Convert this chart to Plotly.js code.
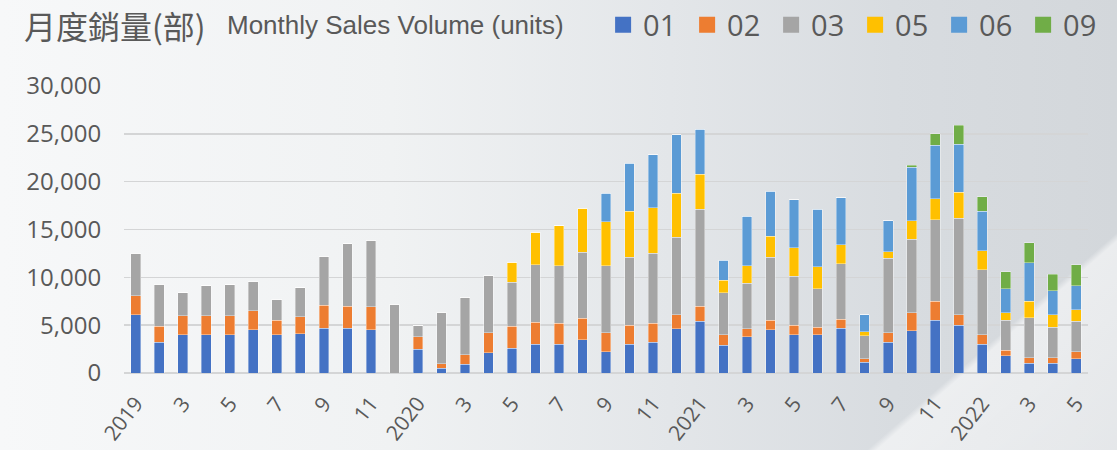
<!DOCTYPE html>
<html>
<head>
<meta charset="utf-8">
<script src="https://cdn.plot.ly/plotly-3.0.1.min.js"></script>
<style>
  html, body { margin:0; padding:0; }
  #chart {
    width:1117px; height:450px;
    background:
      linear-gradient(139deg, rgba(255,255,255,0) 84.7%, rgba(255,255,255,0.55) 85.3%, rgba(255,255,255,0.4) 100%),
      linear-gradient(to right, #f7f8f9 0%, #f0f2f3 35%, #e3e6e9 60%, #d8dce0 80%, #d3d7db 100%);
  }
</style>
</head>
<body>
<div id="chart"></div>
<script>
// Months 2019-01 .. 2022-05
const categories = [
  "2019-01","2019-02","2019-03","2019-04","2019-05","2019-06","2019-07","2019-08","2019-09","2019-10","2019-11","2019-12",
  "2020-01","2020-02","2020-03","2020-04","2020-05","2020-06","2020-07","2020-08","2020-09","2020-10","2020-11","2020-12",
  "2021-01","2021-02","2021-03","2021-04","2021-05","2021-06","2021-07","2021-08","2021-09","2021-10","2021-11","2021-12",
  "2022-01","2022-02","2022-03","2022-04","2022-05"
];
const tickLabels = ["2019","3","5","7","9","11","2020","3","5","7","9","11","2021","3","5","7","9","11","2022","3","5"];

const series01 = [6100,3200,4000,4000,4000,4500,4000,4100,4700,4700,4500,0,
                  2500,500,900,2100,2600,3000,3000,3500,2200,3000,3200,4600,
                  5400,2900,3800,4500,4000,4000,4700,1100,3200,4400,5500,5000,
                  3000,1800,1000,1000,1500];
const series02 = [2000,1700,2000,2000,2000,2000,1500,1800,2400,2300,2400,0,
                  1300,450,1000,2100,2300,2300,2200,2200,2000,2000,2000,1500,
                  1600,1100,800,1000,1000,800,900,400,1000,1900,2000,1100,
                  1000,600,600,600,700];
const series03 = [4400,4400,2400,3100,3200,3100,2200,3000,5100,6500,7000,7200,
                  1200,5400,6000,6000,4600,6000,6000,6900,7000,7100,7300,8100,
                  10100,4400,4800,6600,5100,4000,5800,2400,7800,7700,8500,10100,
                  6800,3100,4200,3200,3200];
const series05 = [0,0,0,0,0,0,0,0,0,0,0,0,
                  0,0,0,0,2100,3400,4200,4600,4600,4800,4800,4600,
                  3700,1300,1800,2200,3000,2300,2000,400,700,1900,2200,2700,
                  2000,800,1700,1300,1200];
const series06 = [0,0,0,0,0,0,0,0,0,0,0,0,
                  0,0,0,0,0,0,0,0,3000,5000,5500,6100,
                  4700,2100,5200,4700,5000,6000,4900,1800,3200,5600,5600,5000,
                  4100,2500,4000,2500,2500];
const series09 = [0,0,0,0,0,0,0,0,0,0,0,0,
                  0,0,0,0,0,0,0,0,0,0,0,0,
                  0,0,0,0,0,0,0,0,0,200,1200,2000,
                  1500,1800,2100,1700,2200];

const seriesNames = ["01","02","03","05","06","09"];
const seriesValues = [series01, series02, series03, series05, series06, series09];
const seriesColors = ["#4472C4","#ED7D31","#A5A5A5","#FFC000","#5B9BD5","#70AD47"];

const tickVals = categories.filter((c, i) => i % 2 === 0);

const traces = [];
seriesNames.forEach((n, i) => {
  traces.push({
    type: "bar", name: n, x: categories, y: seriesValues[i],
    marker: { color: seriesColors[i], line: { color: "rgba(255,255,255,0.45)", width: 0.8 } },
    showlegend: false, hoverinfo: "x+y+name"
  });
});
// legend-only entries with larger square swatches
seriesNames.forEach((n, i) => {
  traces.push({
    type: "scatter", mode: "markers", name: n, x: [null], y: [null],
    marker: { symbol: "square", size: 16, color: seriesColors[i] },
    showlegend: true, hoverinfo: "skip"
  });
});

const layout = {
  width: 1117, height: 450,
  margin: { l: 124, r: 29, t: 86, b: 77, pad: 0, autoexpand: false },
  paper_bgcolor: "rgba(0,0,0,0)",
  plot_bgcolor: "rgba(0,0,0,0)",
  barmode: "stack",
  bargap: 0.587,
  font: { family: "Open Sans, Arial, sans-serif", color: "#595959" },
  showlegend: true,
  legend: {
    orientation: "h", x: 0.497, xanchor: "left", y: 1.2125, yanchor: "middle",
    font: { size: 29, color: "#595959", family: "Open Sans, Arial, sans-serif" },
    bgcolor: "rgba(0,0,0,0)", itemsizing: "trace", traceorder: "normal",
    entrywidth: 39, entrywidthmode: "pixels"
  },
  xaxis: {
    type: "category",
    tickmode: "array", tickvals: tickVals, ticktext: tickLabels,
    tickangle: -52,
    tickfont: { size: 21, color: "#595959" },
    ticks: "outside", ticklen: 9, tickcolor: "rgba(0,0,0,0)",
    showgrid: false, showline: false, zeroline: false,
    range: [-0.5, 40.5]
  },
  yaxis: {
    range: [0, 30000], dtick: 5000, tick0: 0,
    tickformat: ",d",
    tickfont: { size: 24, color: "#595959" },
    gridcolor: "#d4d5d6", gridwidth: 1.5,
    zeroline: true, zerolinecolor: "#d4d5d6", zerolinewidth: 1.7,
    ticks: "outside", ticklen: 17, tickcolor: "rgba(0,0,0,0)",
    showline: false
  },
  annotations: [
    { text: "月度銷量(部)", xref: "paper", yref: "paper",
      x: -0.1058, y: 1.2125, xanchor: "left", yanchor: "middle", showarrow: false,
      font: { family: "Noto Sans CJK TC, Noto Sans CJK SC, sans-serif", size: 32, color: "#595959" } },
    { text: "Monthly Sales Volume (units)", xref: "paper", yref: "paper",
      x: 0.1048, y: 1.2125, xanchor: "left", yanchor: "middle", showarrow: false,
      font: { family: "Liberation Sans, Arial, sans-serif", size: 26, color: "#595959" } }
  ]
};

Plotly.newPlot("chart", traces, layout, { displayModeBar: false, staticPlot: true });
</script>
</body>
</html>
